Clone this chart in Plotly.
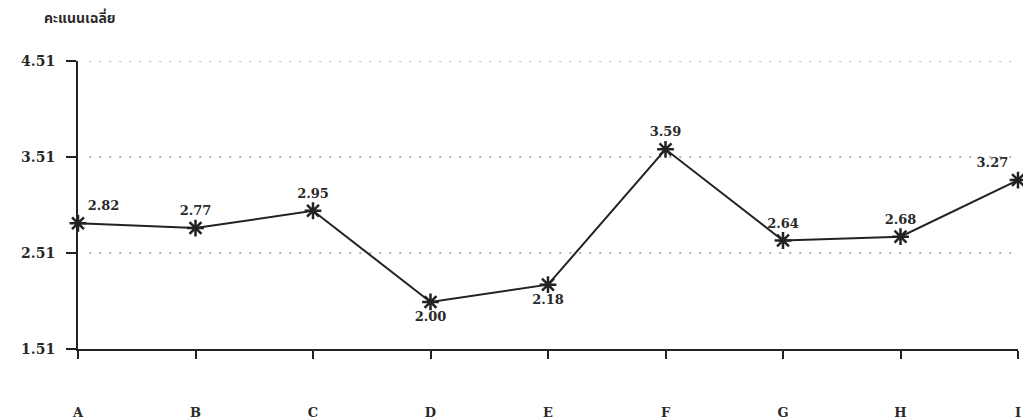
import plotly.graph_objects as go

categories = ["A", "B", "C", "D", "E", "F", "G", "H", "I"]
scores = [2.82, 2.77, 2.95, 2.00, 2.18, 3.59, 2.64, 2.68, 3.27]
y_ticks = [1.51, 2.51, 3.51, 4.51]
grid_levels = [2.51, 3.51, 4.51]
y_title = "คะแนนเฉลี่ย"
label_pos = ["top right", "top center", "top center", "bottom center", "bottom center",
             "top center", "top center", "top center", "top left"]

serif = "Century Schoolbook, DejaVu Serif, Liberation Serif, serif"

fig = go.Figure()
for lv in grid_levels:
    fig.add_shape(type="line", xref="paper", yref="y", x0=0.012, x1=1.0, y0=lv, y1=lv,
                  line=dict(color="#999", width=1.6, dash="2px,8px"), layer="below")

fig.add_trace(go.Scatter(
    x=categories, y=scores,
    mode="lines+markers+text",
    line=dict(color="#222", width=2),
    marker=dict(symbol="asterisk-open", size=14, line=dict(color="#222", width=2.5)),
    text=[f"{v:.2f}" for v in scores],
    textposition=label_pos,
    textfont=dict(family=serif, size=13, color="#2a2a2a", weight="bold"),
    cliponaxis=False,
    showlegend=False,
))

fig.update_layout(
    width=1023, height=412,
    margin=dict(l=70, r=13, t=53, b=71, autoexpand=False),
    paper_bgcolor="white", plot_bgcolor="white",
    xaxis=dict(
        type="category", range=[0, 8],
        showline=True, linecolor="#222", linewidth=2,
        ticks="outside", ticklen=8, tickwidth=2, tickcolor="#222",
        showgrid=False, zeroline=False,
        tickfont=dict(family=serif, size=13, color="#2a2a2a", weight="bold"),
        ticklabelstandoff=42,
    ),
    yaxis=dict(
        range=[1.51, 4.51], tickvals=y_ticks, ticktext=[f"{v:.2f}" for v in y_ticks],
        showline=True, linecolor="#222", linewidth=2,
        ticks="outside", ticklen=10, tickwidth=2, tickcolor="#222",
        showgrid=False, zeroline=False,
        tickfont=dict(family=serif, size=14, color="#2a2a2a", weight="bold"),
        ticklabelstandoff=8,
    ),
    annotations=[dict(
        text=y_title, xref="paper", yref="paper", x=-0.038, y=1.0,
        xanchor="left", yanchor="bottom", yshift=30, showarrow=False,
        font=dict(family="Noto Sans Thai, Noto Sans, DejaVu Sans, sans-serif", size=14, color="#2a2a2a", weight="bold"),
    )],
)

fig.write_html("out.html")
